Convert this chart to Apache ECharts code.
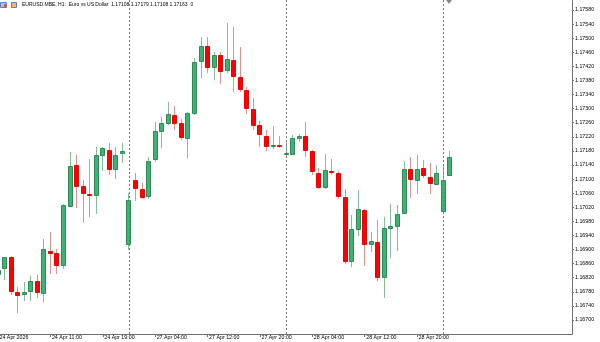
<!DOCTYPE html>
<html><head><meta charset="utf-8">
<script src="https://cdn.jsdelivr.net/npm/echarts@6/dist/echarts.min.js"></script>
<style>html,body{margin:0;padding:0;background:#fff}#c{width:600px;height:342px}</style>
</head><body><div id="c"></div>
<script>
const symbolName = 'EURUSD.MBE';
const timeframe = 'H1';
const description = 'Euro vs US Dollar';
const openP = [1.16828,1.16846,1.16878,1.16780,1.16771,1.16780,1.16811,1.16773,1.16897,1.16890,
1.16854,1.17022,1.17141,1.17080,1.17057,1.17053,1.17166,1.17183,1.17127,1.17171,
1.16914,1.17097,1.17071,1.17048,1.17153,1.17235,1.17256,1.17282,1.17259,1.17215,
1.17284,1.17432,1.17479,1.17415,1.17452,1.17407,1.17437,1.17390,1.17352,1.17298,
1.17253,1.17222,1.17190,1.17198,1.17169,1.17168,1.17213,1.17222,1.17181,1.17117,
1.17074,1.17124,1.17116,1.17048,1.16865,1.16956,1.17011,1.16913,1.16921,1.16819,
1.16959,1.16963,1.17002,1.17128,1.17095,1.17131,1.17107,1.17084,1.17006,1.17108];
const highP = [1.16848,1.16880,1.16882,1.16793,1.16808,1.16825,1.16828,1.16930,1.16951,1.16902,
1.17029,1.17177,1.17169,1.17097,1.17158,1.17190,1.17190,1.17203,1.17190,1.17202,
1.17061,1.17116,1.17088,1.17162,1.17261,1.17275,1.17318,1.17307,1.17271,1.17291,
1.17445,1.17503,1.17503,1.17462,1.17462,1.17542,1.17533,1.17474,1.17361,1.17331,
1.17265,1.17239,1.17251,1.17223,1.17206,1.17225,1.17227,1.17263,1.17183,1.17131,
1.17171,1.17156,1.17123,1.17071,1.16998,1.17068,1.17015,1.16951,1.16985,1.16992,
1.17029,1.17026,1.17151,1.17163,1.17168,1.17154,1.17145,1.17140,1.17137,1.17179];
const lowP = [1.16822,1.16814,1.16771,1.16719,1.16755,1.16755,1.16763,1.16750,1.16830,1.16831,
1.16846,1.17020,1.17018,1.16976,1.16993,1.17001,1.17124,1.17112,1.17100,1.17146,
1.16899,1.17039,1.17044,1.17043,1.17149,1.17187,1.17254,1.17239,1.17211,1.17159,
1.17282,1.17386,1.17400,1.17380,1.17370,1.17400,1.17348,1.17348,1.17284,1.17239,
1.17192,1.17180,1.17185,1.17187,1.17164,1.17167,1.17204,1.17162,1.17112,1.17072,
1.17071,1.17112,1.17043,1.16858,1.16851,1.16939,1.16854,1.16894,1.16812,1.16763,
1.16875,1.16896,1.17001,1.17045,1.17057,1.17104,1.17059,1.17083,1.17003,1.17108];
const closeP = [1.16842,1.16878,1.16780,1.16769,1.16780,1.16812,1.16776,1.16902,1.16887,1.16854,
1.17026,1.17138,1.17078,1.17058,1.17053,1.17168,1.17188,1.17127,1.17169,1.17179,
1.17041,1.17072,1.17047,1.17152,1.17237,1.17259,1.17286,1.17257,1.17216,1.17288,
1.17432,1.17478,1.17416,1.17453,1.17405,1.17441,1.17391,1.17352,1.17298,1.17251,
1.17224,1.17192,1.17198,1.17191,1.17173,1.17216,1.17223,1.17181,1.17119,1.17076,
1.17126,1.17116,1.17050,1.16865,1.16958,1.17015,1.16914,1.16924,1.16820,1.16962,
1.16967,1.17002,1.17129,1.17097,1.17129,1.17109,1.17087,1.17116,1.17098,1.17163];
const xTickIndex = [0,8,16,24,32,40,48,56,64];
const xTickText = ['24 Apr 2026','24 Apr 11:00','24 Apr 19:00','27 Apr 04:00','27 Apr 12:00','27 Apr 20:00','28 Apr 04:00','28 Apr 12:00','28 Apr 20:00'];
const daySeparators = [20,44,68];
const yTicks = [1.16700,1.16740,1.16780,1.16820,1.16860,1.16900,1.16940,1.16980,1.17020,1.17060,1.17100,1.17140,1.17180,1.17220,1.17260,1.17300,1.17340,1.17380,1.17420,1.17460,1.17500,1.17540,1.17580];
const yMin = 1.166603, yMax = 1.176084;
const xMin = 0.3054, xMax = 87.65;

const FONT = 'Liberation Sans';
const FS = 5.3;
const nBars = openP.length;
const candleData = openP.map((o, i) => [i, o, closeP[i], lowP[i], highP[i]]);
const last = nBars - 1;
const titleText = symbolName + ', ' + timeframe + ':  ' + description + '  ' +
  openP[last].toFixed(5) + ' ' + highP[last].toFixed(5) + ' ' + lowP[last].toFixed(5) + ' ' + closeP[last].toFixed(5) + '  0';

const chart = echarts.init(document.getElementById('c'), null, {renderer: 'canvas'});
const baseGraphic = [
  {type: 'rect', shape: {x: 0.5, y: 2.5, width: 6, height: 5}, style: {fill: '#a9c2ee', stroke: '#5f7fc4', lineWidth: 1}},
  {type: 'rect', shape: {x: 4, y: 4, width: 2, height: 3}, style: {fill: '#e05050'}},
  {type: 'rect', shape: {x: 11.5, y: 2.5, width: 5, height: 5}, style: {fill: '#f2b870', stroke: '#5f7fc4', lineWidth: 1}},
  {type: 'polygon', shape: {points: [[446, 0], [452, 0], [449, 4]]}, style: {fill: '#8a8a8a'}}
];
chart.setOption({
  animation: false,
  backgroundColor: '#ffffff',
  title: {text: titleText, left: 22, top: 2, padding: 0,
    textStyle: {fontSize: 5.0, fontWeight: 'normal', color: '#000', fontFamily: FONT}},
  grid: {left: 0, top: 0, width: 572, height: 334, outerBoundsMode: 'none'},
  xAxis: {
    type: 'value', min: xMin, max: xMax,
    axisLine: {show: true, lineStyle: {color: '#707070', width: 1}},
    axisTick: {show: true, length: 3, customValues: xTickIndex, lineStyle: {color: '#707070'}},
    axisLabel: {show: true, customValues: xTickIndex,
      formatter: (v) => { const k = xTickIndex.indexOf(Math.round(Number(v))); return k >= 0 ? xTickText[k] : ''; },
      align: 'left', padding: [0, 0, 0, 1.5], margin: 1.5, fontSize: FS, color: '#000', fontFamily: FONT},
    splitLine: {show: false}
  },
  yAxis: {
    type: 'value', position: 'right', min: yMin, max: yMax,
    axisLine: {show: true, lineStyle: {color: '#707070', width: 1}},
    axisTick: {show: true, length: 2, customValues: yTicks, lineStyle: {color: '#707070'}},
    axisLabel: {show: true, customValues: yTicks, formatter: (v) => Number(v).toFixed(5),
      margin: 3, fontSize: FS, color: '#000', fontFamily: FONT},
    splitLine: {show: false}
  },
  series: [{
    type: 'custom',
    data: candleData,
    encode: {x: 0, y: [1, 2, 3, 4]},
    clip: false,
    renderItem: function (params, api) {
      const xi = api.value(0);
      const o = api.value(1), c = api.value(2), l = api.value(3), h = api.value(4);
      const pO = api.coord([xi, o]), pC = api.coord([xi, c]);
      const pL = api.coord([xi, l]), pH = api.coord([xi, h]);
      const up = c >= o;
      const cx = Math.round(pO[0] - 0.5);
      const top = Math.round(Math.min(pO[1], pC[1]));
      let bot = Math.round(Math.max(pO[1], pC[1]));
      if (bot - top < 2) bot = top + 2;
      return {
        type: 'group',
        children: [
          {type: 'line', shape: {x1: cx + 0.5, y1: Math.round(pH[1]), x2: cx + 0.5, y2: Math.round(pL[1])},
            style: {stroke: up ? '#86bf95' : '#e89090', lineWidth: 1}},
          {type: 'rect', shape: {x: cx - 1.5, y: top + 0.5, width: 4, height: bot - top - 1},
            style: {fill: up ? '#3cb371' : '#ff0000', stroke: up ? '#2e8b57' : '#f00000', lineWidth: 1}}
        ]
      };
    },
    markLine: {
      silent: true, symbol: ['none', 'none'], label: {show: false},
      lineStyle: {type: [2, 2], color: '#7a7a7a', width: 1},
      data: daySeparators.map(i => ({xAxis: i}))
    }
  }],
  graphic: baseGraphic
});
// first time label sits at a bar just left of the visible range; place it at that bar's pixel
const firstPx = chart.convertToPixel({xAxisIndex: 0}, xTickIndex[0]);
const axisY = chart.convertToPixel({yAxisIndex: 0}, yMin);
chart.setOption({graphic: baseGraphic.concat([
  {type: 'text', x: firstPx + 1.5, y: axisY + 1.5,
    style: {text: xTickText[0], fontSize: FS, fontFamily: FONT, fill: '#000', align: 'left', verticalAlign: 'top'}}
])});
</script></body></html>
